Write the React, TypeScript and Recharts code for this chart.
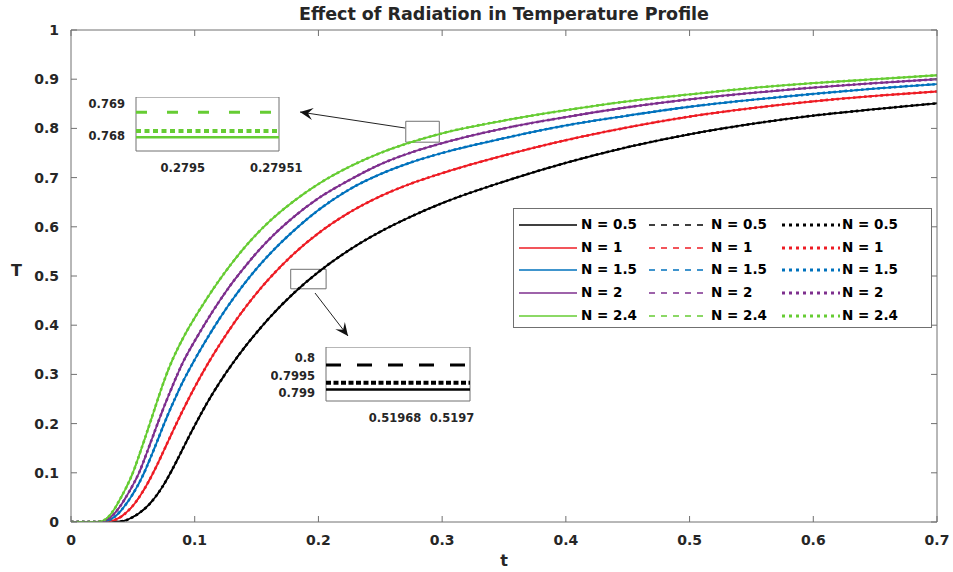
import React from 'react';
import { LineChart, Line, XAxis, YAxis, ReferenceArea } from 'recharts';

const FONT = '"DejaVu Sans", "Liberation Sans", Arial, sans-serif';
const TEXT = '#262626';
const FRAME = '#707070';

// time grid shared by all five curves
const T_GRID = [
  0, 0.01, 0.02, 0.025, 0.03, 0.035, 0.04, 0.045, 0.05, 0.055, 0.06, 0.065, 0.07, 0.075, 0.08, 0.085,
  0.09, 0.095, 0.1, 0.11, 0.12, 0.13, 0.14, 0.15, 0.16, 0.18, 0.2, 0.225, 0.25, 0.275, 0.3, 0.35, 0.4,
  0.45, 0.5, 0.55, 0.6, 0.65, 0.7,
];

const TEMP_N05 = [
  0, 0, 0, 0, 0, 0, 0.001, 0.004, 0.01, 0.018, 0.028, 0.041, 0.057, 0.076, 0.098, 0.122,
  0.147, 0.172, 0.196, 0.242, 0.283, 0.32, 0.354, 0.385, 0.414, 0.465, 0.508, 0.553, 0.59, 0.621, 0.648, 0.692, 0.73,
  0.762, 0.788, 0.809, 0.826, 0.839, 0.851,
];
const TEMP_N1 = [
  0, 0, 0, 0, 0.001, 0.004, 0.01, 0.02, 0.033, 0.05, 0.07, 0.093, 0.118, 0.145, 0.172, 0.199,
  0.225, 0.25, 0.274, 0.319, 0.36, 0.398, 0.433, 0.465, 0.494, 0.545, 0.587, 0.629, 0.662, 0.688, 0.709, 0.745, 0.776,
  0.802, 0.824, 0.841, 0.855, 0.866, 0.875,
];
const TEMP_N15 = [
  0, 0, 0, 0, 0.003, 0.01, 0.022, 0.038, 0.057, 0.079, 0.105, 0.135, 0.166, 0.198, 0.228, 0.256,
  0.283, 0.307, 0.33, 0.373, 0.413, 0.45, 0.484, 0.515, 0.543, 0.592, 0.634, 0.676, 0.707, 0.731, 0.75, 0.78, 0.806,
  0.826, 0.844, 0.858, 0.87, 0.881, 0.89,
];
const TEMP_N2 = [
  0, 0, 0, 0.001, 0.006, 0.017, 0.033, 0.053, 0.075, 0.1, 0.132, 0.166, 0.2, 0.233, 0.264, 0.294,
  0.322, 0.346, 0.368, 0.41, 0.449, 0.485, 0.517, 0.547, 0.574, 0.62, 0.658, 0.695, 0.727, 0.751, 0.77, 0.8, 0.823,
  0.843, 0.859, 0.872, 0.883, 0.892, 0.9,
];
const TEMP_N24 = [
  0, 0, 0, 0.002, 0.01, 0.026, 0.048, 0.072, 0.1, 0.135, 0.172, 0.21, 0.248, 0.285, 0.318, 0.346,
  0.371, 0.394, 0.415, 0.455, 0.492, 0.526, 0.557, 0.585, 0.61, 0.652, 0.687, 0.722, 0.75, 0.772, 0.79, 0.816, 0.837,
  0.855, 0.869, 0.882, 0.892, 0.9, 0.908,
];

const N_LABELS = ['N = 0.5', 'N = 1', 'N = 1.5', 'N = 2', 'N = 2.4'];
const SERIES_KEYS = ['n05', 'n1', 'n15', 'n2', 'n24'];
const COLORS = ['#000000', '#ee1c24', '#0072bd', '#7e2f8e', '#66cc33'];

const X_TICKS = [0, 0.1, 0.2, 0.3, 0.4, 0.5, 0.6, 0.7];
const Y_TICKS = [0, 0.1, 0.2, 0.3, 0.4, 0.5, 0.6, 0.7, 0.8, 0.9, 1];

// zoom box 1 (N = 2.4 near t = 0.2795)
const INSET1_T = [0.279495, 0.2795103];
const INSET1_SOLID = [0.76795, 0.76795];
const INSET1_DASHED = [0.76874, 0.76874];
const INSET1_DOTTED = [0.76815, 0.76815];
const INSET1_X_TICKS = [0.2795, 0.27951];
const INSET1_Y_TICKS = [0.768, 0.769];

// zoom box 2 (N = 0.5 near t = 0.5197)
const INSET2_T = [0.5196558, 0.5197063];
const INSET2_SOLID = [0.79911, 0.79911];
const INSET2_DASHED = [0.79981, 0.79981];
const INSET2_DOTTED = [0.7993, 0.7993];
const INSET2_X_TICKS = [0.51968, 0.5197];
const INSET2_Y_TICKS = [0.799, 0.7995, 0.8];

const ROWS = T_GRID.map((t, i) => ({
  t,
  n05: TEMP_N05[i],
  n1: TEMP_N1[i],
  n15: TEMP_N15[i],
  n2: TEMP_N2[i],
  n24: TEMP_N24[i],
}));

const INSET1_ROWS = INSET1_T.map((t, i) => ({ t, solid: INSET1_SOLID[i], dashed: INSET1_DASHED[i], dotted: INSET1_DOTTED[i] }));
const INSET2_ROWS = INSET2_T.map((t, i) => ({ t, solid: INSET2_SOLID[i], dashed: INSET2_DASHED[i], dotted: INSET2_DOTTED[i] }));

const tickStyle = { fill: TEXT, fontSize: 14, fontWeight: 700, fontFamily: FONT };
const insetTick = { fill: TEXT, fontSize: 11.5, fontWeight: 700, fontFamily: FONT };

type InsetProps = {
  rows: any[];
  left: number;
  top: number;
  yWidth: number;
  plotW: number;
  plotH: number;
  xDomain: number[];
  yDomain: number[];
  xTicks: number[];
  yTicks: number[];
  color: string;
  dash: string;
  dot: string;
};

const Inset = (p: InsetProps) => (
  <div style={{ position: 'absolute', left: p.left, top: p.top }}>
    <LineChart width={p.yWidth + p.plotW + 30} height={p.plotH + 26} data={p.rows} margin={{ top: 0, right: 30, bottom: 0, left: 0 }}>
      <XAxis dataKey="t" type="number" domain={p.xDomain} ticks={p.xTicks} allowDataOverflow
        axisLine={false} tickLine={false} tickMargin={7} height={26} tick={insetTick} interval={0} />
      <YAxis type="number" domain={p.yDomain} ticks={p.yTicks} allowDataOverflow width={p.yWidth}
        axisLine={false} tickLine={false} tickMargin={5} tick={insetTick} interval={0} />
      <ReferenceArea x1={p.xDomain[0]} x2={p.xDomain[1]} y1={p.yDomain[0]} y2={p.yDomain[1]}
        fill="#ffffff" fillOpacity={1} stroke={FRAME} strokeWidth={1} ifOverflow="visible" />
      <Line dataKey="solid" stroke={p.color} strokeWidth={2.5} dot={false} isAnimationActive={false} />
      <Line dataKey="dashed" stroke={p.color} strokeWidth={3} strokeDasharray={p.dash} dot={false} isAnimationActive={false} />
      <Line dataKey="dotted" stroke={p.color} strokeWidth={4} strokeDasharray={p.dot} dot={false} isAnimationActive={false} />
    </LineChart>
  </div>
);

// swept-back arrow head, tail/tip in page pixels
const arrowHead = (tail: number[], tip: number[]) => {
  const dx = tip[0] - tail[0];
  const dy = tip[1] - tail[1];
  const len = Math.sqrt(dx * dx + dy * dy);
  const ux = dx / len, uy = dy / len;
  const px = -uy, py = ux;
  const L = 13, W = 6, notch = 8;
  const b1 = [tip[0] - ux * L + px * W, tip[1] - uy * L + py * W];
  const b2 = [tip[0] - ux * L - px * W, tip[1] - uy * L - py * W];
  const n = [tip[0] - ux * notch, tip[1] - uy * notch];
  return `${tip[0]},${tip[1]} ${b1[0]},${b1[1]} ${n[0]},${n[1]} ${b2[0]},${b2[1]}`;
};

const ARROWS = [
  { tail: [405, 128], tip: [300, 112] },
  { tail: [315, 293], tip: [348, 336] },
];

const LegendSample = ({ color, dash, width }: { color: string; dash?: string; width: number }) => (
  <svg width={58} height={6} style={{ display: 'block' }}>
    <line x1={0} y1={3} x2={58} y2={3} stroke={color} strokeWidth={width} strokeDasharray={dash} />
  </svg>
);

const LEGEND_COLS = [
  { lineX: 5, textX: 67, dash: undefined, width: 1.6 },
  { lineX: 135, textX: 197, dash: '6 6', width: 1.6 },
  { lineX: 268, textX: 328, dash: '3 4', width: 2.8 },
];

const App = () => {
  return (
    <div style={{ position: 'absolute', left: 0, top: 0, width: 953, height: 572, background: '#fff', fontFamily: FONT }}>
      <LineChart width={953} height={572} data={ROWS} margin={{ top: 0, right: 0, bottom: 0, left: 0 }}>
        <XAxis xAxisId="b" dataKey="t" type="number" domain={[0, 0.7]} ticks={X_TICKS} allowDataOverflow
          height={50} stroke={FRAME} tickSize={-6} tickMargin={19} tick={tickStyle} interval={0} />
        <XAxis xAxisId="top" dataKey="t" orientation="top" type="number" domain={[0, 0.7]} ticks={X_TICKS} allowDataOverflow
          height={30} stroke={FRAME} tickSize={-6} tickFormatter={() => ''} interval={0} />
        <YAxis yAxisId="l" type="number" domain={[0, 1]} ticks={Y_TICKS} allowDataOverflow width={71}
          stroke={FRAME} tickSize={-6} tickMargin={18} tick={tickStyle} interval={0} />
        <YAxis yAxisId="r" orientation="right" type="number" domain={[0, 1]} ticks={Y_TICKS} allowDataOverflow width={16}
          stroke={FRAME} tickSize={-6} tickFormatter={() => ''} interval={0} />

        {/* invisible series so the top/right frame axes get their scales */}
        <Line xAxisId="top" yAxisId="r" dataKey="n05" stroke="none" strokeOpacity={0} dot={false} isAnimationActive={false} />

        {SERIES_KEYS.map((k, i) => (
          <Line key={'solid-' + k} xAxisId="b" yAxisId="l" dataKey={k} type="monotone" stroke={COLORS[i]}
            strokeWidth={1.8} dot={false} isAnimationActive={false} />
        ))}
        {SERIES_KEYS.map((k, i) => (
          <Line key={'dash-' + k} xAxisId="b" yAxisId="l" dataKey={k} type="monotone" stroke={COLORS[i]}
            strokeWidth={1.6} strokeDasharray="6 6" dot={false} isAnimationActive={false} />
        ))}
        {SERIES_KEYS.map((k, i) => (
          <Line key={'dot-' + k} xAxisId="b" yAxisId="l" dataKey={k} type="monotone" stroke={COLORS[i]}
            strokeWidth={2.6} strokeDasharray="2.5 3" dot={false} isAnimationActive={false} />
        ))}

        <ReferenceArea xAxisId="b" yAxisId="l" x1={0.2706} x2={0.2977} y1={0.772} y2={0.8145}
          fill="none" stroke={FRAME} strokeWidth={1} />
        <ReferenceArea xAxisId="b" yAxisId="l" x1={0.1776} x2={0.2062} y1={0.474} y2={0.5136}
          fill="none" stroke={FRAME} strokeWidth={1} />
      </LineChart>

      {/* title and axis labels */}
      <div style={{ position: 'absolute', left: 71, width: 866, top: 4, textAlign: 'center', fontSize: 17.5, fontWeight: 700, color: TEXT }}>
        Effect of Radiation in Temperature Profile
      </div>
      <div style={{ position: 'absolute', left: 0, width: 1008, top: 551, textAlign: 'center', fontSize: 16, fontWeight: 700, color: TEXT }}>
        t
      </div>
      <div style={{ position: 'absolute', left: 11, top: 261, fontSize: 16, fontWeight: 700, color: TEXT }}>
        T
      </div>

      {/* legend */}
      <div style={{ position: 'absolute', left: 513, top: 208, width: 419, height: 120, border: `1px solid ${FRAME}`, background: '#fff', boxSizing: 'border-box' }}>
        {N_LABELS.map((label, r) =>
          LEGEND_COLS.map((c, ci) => (
            <React.Fragment key={label + ci}>
              <div style={{ position: 'absolute', left: c.lineX, top: 13 + r * 22.7 }}>
                <LegendSample color={COLORS[r]} dash={c.dash} width={c.width} />
              </div>
              <div style={{ position: 'absolute', left: c.textX, top: 7 + r * 22.7, fontSize: 13.5, fontWeight: 700, color: '#000', whiteSpace: 'nowrap' }}>
                {label}
              </div>
            </React.Fragment>
          ))
        )}
      </div>

      {/* zoomed views */}
      <Inset rows={INSET1_ROWS} left={86} top={97} yWidth={50} plotW={143} plotH={54}
        xDomain={[0.279495, 0.2795103]} yDomain={[0.76752, 0.76922]} xTicks={INSET1_X_TICKS} yTicks={INSET1_Y_TICKS}
        color={COLORS[4]} dash="11 20" dot="5 3.5" />
      <Inset rows={INSET2_ROWS} left={271} top={347} yWidth={55} plotW={144} plotH={54}
        xDomain={[0.5196558, 0.5197063]} yDomain={[0.79878, 0.80032]} xTicks={INSET2_X_TICKS} yTicks={INSET2_Y_TICKS}
        color={COLORS[0]} dash="15 16" dot="5 2.5" />

      {/* arrows */}
      <svg width={953} height={572} style={{ position: 'absolute', left: 0, top: 0, pointerEvents: 'none' }}>
        {ARROWS.map((a, i) => (
          <g key={i}>
            <line x1={a.tail[0]} y1={a.tail[1]} x2={a.tip[0]} y2={a.tip[1]} stroke="#222" strokeWidth={1} />
            <polygon points={arrowHead(a.tail, a.tip)} fill="#111" />
          </g>
        ))}
      </svg>
    </div>
  );
};

export default App;
